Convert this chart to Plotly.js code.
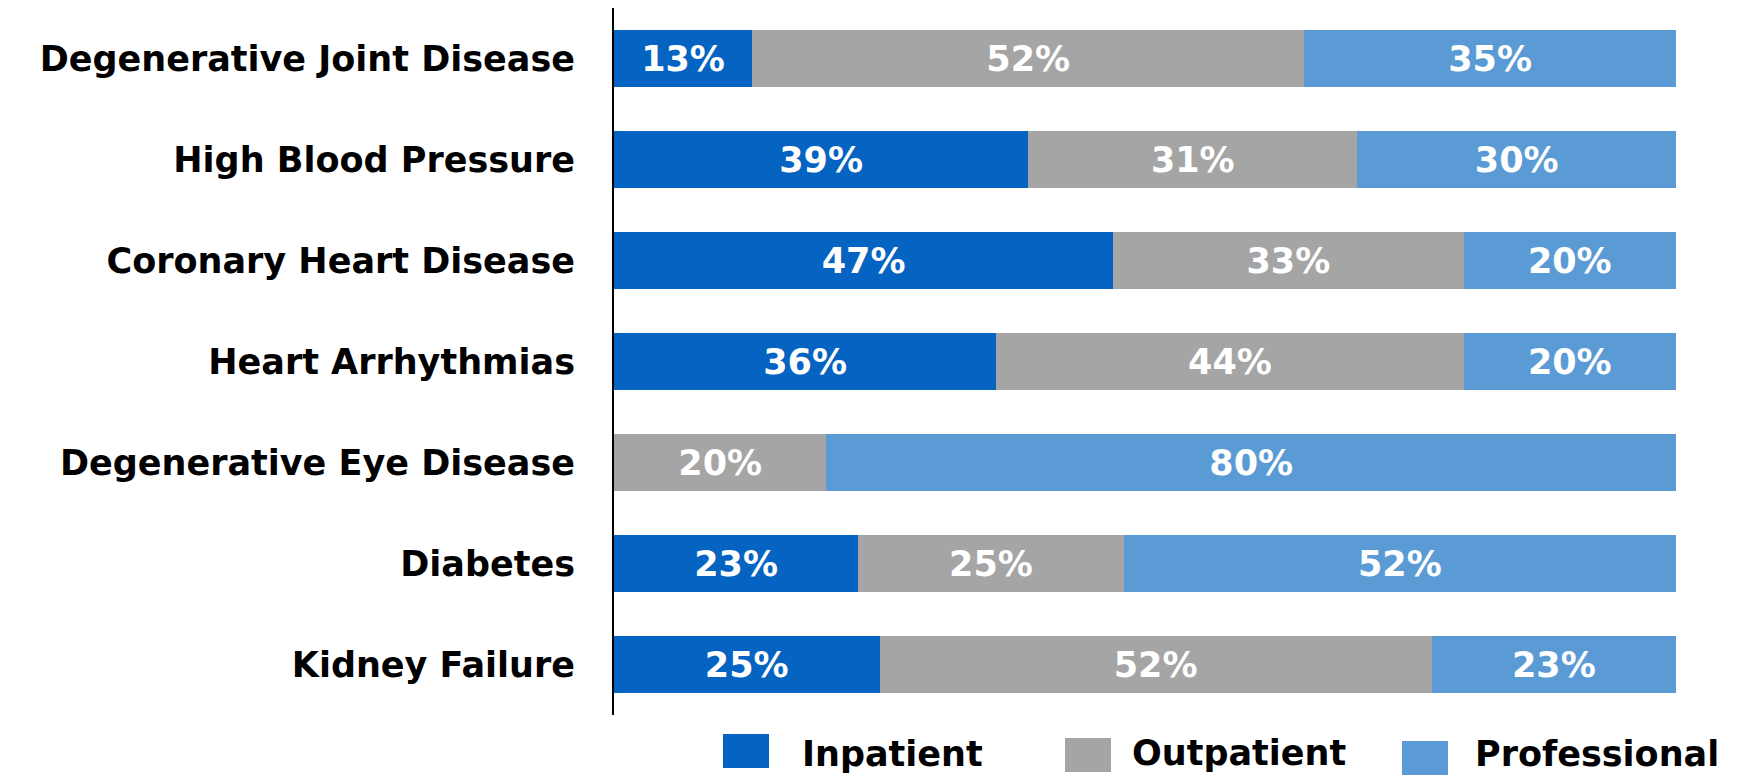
<!DOCTYPE html>
<html>
<head>
<meta charset="utf-8">
<script src="https://cdn.plot.ly/plotly-3.0.1.min.js"></script>
<style>
  html, body { margin: 0; padding: 0; background: #ffffff; }
  #chart { width: 1746px; height: 777px; }
</style>
</head>
<body>
<div id="chart"></div>
<script>
// ---- Data ----
const categories = [
  "Degenerative Joint Disease",
  "High Blood Pressure",
  "Coronary Heart Disease",
  "Heart Arrhythmias",
  "Degenerative Eye Disease",
  "Diabetes",
  "Kidney Failure"
];
const inpatient    = [13, 39, 47, 36, 0, 23, 25];
const outpatient   = [52, 31, 33, 44, 20, 25, 52];
const professional = [35, 30, 20, 20, 80, 52, 23];
const seriesNames  = ["Inpatient", "Outpatient", "Professional"];
const seriesColors = ["#0563C1", "#A5A5A5", "#5B9BD5"];

// ---- Layout constants ----
const FONT = "DejaVu Sans, Verdana, sans-serif";
const W = 1746, H = 777;
const M = { l: 614, r: 70, t: 8, b: 62 };
const plotW = W - M.l - M.r, plotH = H - M.t - M.b;
const px2x = p => (p - M.l) / plotW;
const px2y = p => (H - M.b - p) / plotH;

const seriesValues = [inpatient, outpatient, professional];
const traces = seriesValues.map((vals, i) => ({
  type: "bar",
  orientation: "h",
  name: seriesNames[i],
  y: categories,
  x: vals,
  text: vals.map(v => v > 0 ? v + "%" : ""),
  textposition: "inside",
  insidetextanchor: "middle",
  constraintext: "none",
  textfont: { family: FONT, size: 35, color: "#ffffff", weight: "bold" },
  marker: { color: seriesColors[i], line: { width: 0 } },
  hoverinfo: "skip",
  showlegend: false
}));

// custom legend (large square swatches)
const legendSwatchX = [723, 1065, 1402];
const legendSwatchY = [734, 738, 741];
const legendTextX   = [801, 1131, 1474];
const legendTextY   = [754, 753, 754];
const shapes = seriesNames.map((n, i) => ({
  type: "rect", xref: "paper", yref: "paper",
  x0: px2x(legendSwatchX[i]), x1: px2x(legendSwatchX[i] + 46),
  y0: px2y(legendSwatchY[i] + 34), y1: px2y(legendSwatchY[i]),
  fillcolor: seriesColors[i], line: { width: 0 }
}));
const annotations = seriesNames.map((n, i) => ({
  xref: "paper", yref: "paper",
  x: px2x(legendTextX[i]), y: px2y(legendTextY[i]),
  xanchor: "left", yanchor: "middle",
  text: n, showarrow: false, borderpad: 0,
  font: { family: FONT, size: 35, color: "#000000", weight: "bold" }
}));

const layout = {
  width: W, height: H,
  margin: M,
  barmode: "stack",
  bargap: 0.436,
  paper_bgcolor: "#ffffff",
  plot_bgcolor: "#ffffff",
  showlegend: false,
  xaxis: {
    range: [0, 100],
    visible: false,
    fixedrange: true
  },
  yaxis: {
    type: "category",
    categoryorder: "array",
    categoryarray: categories,
    range: [6.5, -0.5],
    showline: true,
    linecolor: "#000000",
    linewidth: 2,
    showgrid: false,
    zeroline: false,
    ticks: "",
    ticklabelstandoff: 30,
    tickfont: { family: FONT, size: 35, color: "#000000", weight: "bold" },
    fixedrange: true
  },
  shapes: shapes,
  annotations: annotations
};

Plotly.newPlot("chart", traces, layout, { displayModeBar: false, staticPlot: true });
</script>
</body>
</html>
